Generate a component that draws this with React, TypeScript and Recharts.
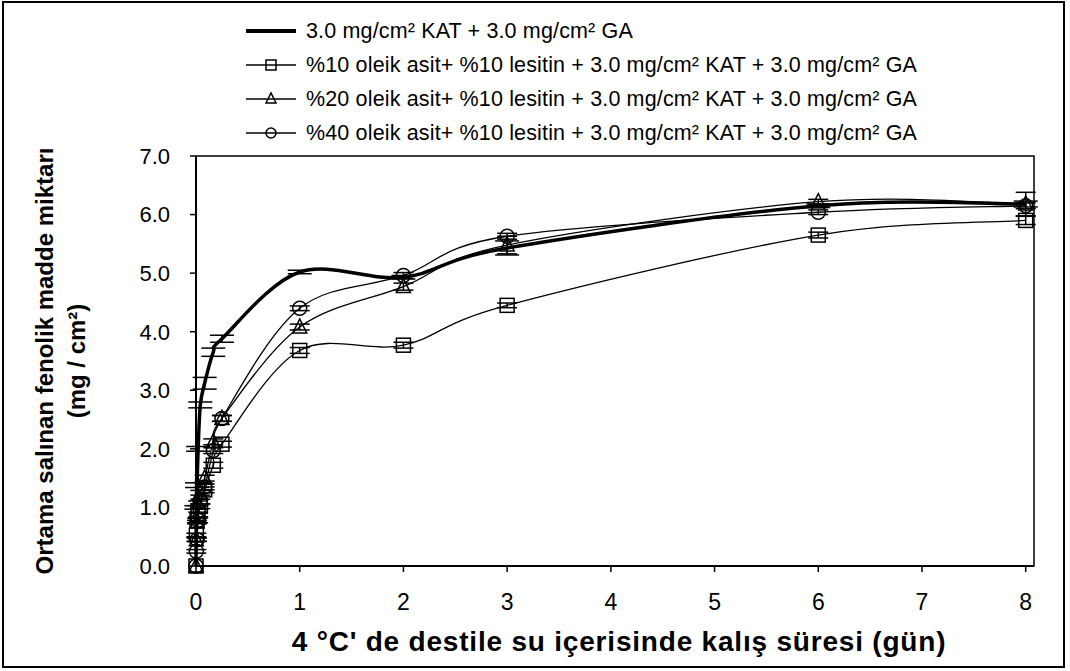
import {
  LineChart,
  Line,
  XAxis,
  YAxis,
  ErrorBar,
  Legend,
  ReferenceArea,
} from "recharts";

// sampling times in days: 0, 5 min, 15 min, 30 min, 1 h, 2 h, 4 h, 6 h, then daily
const days = [0, 0.0035, 0.0104, 0.0208, 0.0417, 0.0833, 0.1667, 0.25, 1, 2, 3, 6, 8];

const kat = [0, 1.0, 1.38, 2.0, 2.75, 3.12, 3.65, 3.88, 5.02, 4.93, 5.43, 6.15, 6.18];
const katErr = [0, 0.03, 0.04, 0.04, 0.05, 0.1, 0.07, 0.06, 0.03, 0.03, 0.12, 0.03, 0.05];

const ole10 = [0, 0.53, 0.78, 0.88, 1.02, 1.3, 1.72, 2.08, 3.68, 3.77, 4.45, 5.65, 5.9];
const ole10Err = [0, 0.03, 0.04, 0.04, 0.04, 0.05, 0.05, 0.05, 0.05, 0.05, 0.04, 0.05, 0.07];

const ole20 = [0, 0.45, 0.75, 1.07, 1.25, 1.5, 2.12, 2.52, 4.08, 4.77, 5.48, 6.22, 6.18];
const ole20Err = [0, 0.03, 0.03, 0.04, 0.04, 0.05, 0.05, 0.05, 0.05, 0.06, 0.15, 0.04, 0.2];

const ole40 = [0, 0.25, 0.45, 0.78, 1.1, 1.35, 1.97, 2.52, 4.4, 4.96, 5.63, 6.04, 6.15];
const ole40Err = [0, 0.03, 0.03, 0.04, 0.04, 0.05, 0.05, 0.05, 0.04, 0.05, 0.05, 0.04, 0.05];

const xTicks = [0, 1, 2, 3, 4, 5, 6, 7, 8];
const yTicks = [0, 1, 2, 3, 4, 5, 6, 7];

const seriesNames = [
  "3.0 mg/cm² KAT + 3.0 mg/cm² GA",
  "%10 oleik asit+ %10 lesitin + 3.0 mg/cm² KAT + 3.0 mg/cm² GA",
  "%20 oleik asit+ %10 lesitin + 3.0 mg/cm² KAT + 3.0 mg/cm² GA",
  "%40 oleik asit+ %10 lesitin + 3.0 mg/cm² KAT + 3.0 mg/cm² GA",
];

const data = days.map((t, i) => ({
  t,
  kat: kat[i],
  katErr: katErr[i],
  ole10: ole10[i],
  ole10Err: ole10Err[i],
  ole20: ole20[i],
  ole20Err: ole20Err[i],
  ole40: ole40[i],
  ole40Err: ole40Err[i],
}));

const FONT = "'Liberation Sans', Arial, sans-serif";

// Excel-style smoothed line: cubic bezier with control points at 1/6 of neighbour spread
function smoothCurve(context: any) {
  let pts: number[][] = [];
  return {
    areaStart() {},
    areaEnd() {},
    lineStart() {
      pts = [];
    },
    point(x: number, y: number) {
      pts.push([+x, +y]);
    },
    lineEnd() {
      if (!pts.length) return;
      context.moveTo(pts[0][0], pts[0][1]);
      for (let i = 0; i < pts.length - 1; i++) {
        const p0 = pts[i - 1] || pts[i];
        const p1 = pts[i];
        const p2 = pts[i + 1];
        const p3 = pts[i + 2] || p2;
        context.bezierCurveTo(
          p1[0] + (p2[0] - p0[0]) / 6,
          p1[1] + (p2[1] - p0[1]) / 6,
          p2[0] - (p3[0] - p1[0]) / 6,
          p2[1] - (p3[1] - p1[1]) / 6,
          p2[0],
          p2[1]
        );
      }
    },
  };
}

function Marker({ kind, cx, cy, s }: { kind: string; cx: number; cy: number; s: number }) {
  const h = s / 2;
  if (kind === "square")
    return <rect x={cx - h} y={cy - h} width={s} height={s} fill="none" stroke="#000" strokeWidth={1.5} />;
  if (kind === "triangle")
    return (
      <polygon
        points={`${cx},${cy - h - 1} ${cx - h},${cy + h - 1} ${cx + h},${cy + h - 1}`}
        fill="none"
        stroke="#000"
        strokeWidth={1.5}
      />
    );
  return <circle cx={cx} cy={cy} r={h} fill="none" stroke="#000" strokeWidth={1.5} />;
}

const dotOf = (kind: string) => (p: any) => (
  <Marker key={`${kind}-${p.index}`} kind={kind} cx={p.cx} cy={p.cy} s={14} />
);

function LegendBox() {
  const rows = [31, 65, 99, 133];
  const kinds = ["", "square", "triangle", "circle"];
  return (
    <svg width={1070} height={160}>
      {seriesNames.map((name, i) => (
        <g key={name}>
          <line
            x1={246}
            x2={296}
            y1={rows[i]}
            y2={rows[i]}
            stroke="#000"
            strokeWidth={i === 0 ? 4 : 1.5}
          />
          {kinds[i] && <Marker kind={kinds[i]} cx={271} cy={rows[i]} s={10} />}
          <text
            x={306}
            y={rows[i]}
            dominantBaseline="central"
            fontFamily={FONT}
            fontSize={21.5}
            letterSpacing={0.15}
            fill="#000"
          >
            {name}
          </text>
        </g>
      ))}
    </svg>
  );
}

export default function App() {
  const xTick = { fill: "#000", fontSize: 23, fontFamily: FONT };
  const yTick = { fill: "#000", fontSize: 22, fontFamily: FONT };
  return (
    <div style={{ position: "absolute", left: 0, top: 0, width: 1070, height: 671, background: "#fff" }}>
      <div
        style={{
          position: "absolute",
          left: 2,
          top: 1,
          width: 1063,
          height: 667,
          border: "2px solid #000",
          boxSizing: "border-box",
        }}
      />
      <LineChart
        width={1070}
        height={671}
        data={data}
        margin={{ top: 156, right: 36, bottom: 75, left: 136 }}
      >
        <ReferenceArea x1={0} x2={8.08} y1={0} y2={7} fill="none" stroke="#000" strokeWidth={1.5} />
        <XAxis
          type="number"
          dataKey="t"
          domain={[0, 8.08]}
          ticks={xTicks}
          height={30}
          tick={xTick}
          tickSize={6}
          tickMargin={22}
          axisLine={{ stroke: "#000", strokeWidth: 2 }}
          tickLine={{ stroke: "#000", strokeWidth: 1.5 }}
        />
        <YAxis
          type="number"
          domain={[0, 7]}
          ticks={yTicks}
          width={60}
          tick={yTick}
          tickSize={6}
          tickMargin={20}
          tickFormatter={(v: number) => v.toFixed(1)}
          axisLine={{ stroke: "#000", strokeWidth: 2 }}
          tickLine={{ stroke: "#000", strokeWidth: 1.5 }}
        />
        <Legend
          layout="horizontal"
          verticalAlign="middle"
          align="center"
          wrapperStyle={{ position: "absolute", left: 0, top: 0, width: 1070, height: 160 }}
          content={() => <LegendBox />}
        />
        <Line
          dataKey="kat"
          type={smoothCurve as any}
          stroke="#000"
          strokeWidth={3.5}
          dot={false}
          isAnimationActive={false}
        >
          <ErrorBar dataKey="katErr" direction="y" width={12} stroke="#000" strokeWidth={1.5} isAnimationActive={false} />
        </Line>
        <Line
          dataKey="ole10"
          type={smoothCurve as any}
          stroke="#000"
          strokeWidth={1.3}
          dot={dotOf("square")}
          isAnimationActive={false}
        >
          <ErrorBar dataKey="ole10Err" direction="y" width={10} stroke="#000" strokeWidth={1.5} isAnimationActive={false} />
        </Line>
        <Line
          dataKey="ole20"
          type={smoothCurve as any}
          stroke="#000"
          strokeWidth={1.3}
          dot={dotOf("triangle")}
          isAnimationActive={false}
        >
          <ErrorBar dataKey="ole20Err" direction="y" width={10} stroke="#000" strokeWidth={1.5} isAnimationActive={false} />
        </Line>
        <Line
          dataKey="ole40"
          type={smoothCurve as any}
          stroke="#000"
          strokeWidth={1.3}
          dot={dotOf("circle")}
          isAnimationActive={false}
        >
          <ErrorBar dataKey="ole40Err" direction="y" width={10} stroke="#000" strokeWidth={1.5} isAnimationActive={false} />
        </Line>
      </LineChart>
      <svg style={{ position: "absolute", left: 0, top: 0, pointerEvents: "none" }} width={1070} height={671}>
        <text
          x={619}
          y={651}
          textAnchor="middle"
          fontFamily={FONT}
          fontWeight="bold"
          fontSize={28}
          letterSpacing={0.8}
          fill="#000"
        >
          4 °C' de destile su içerisinde kalış süresi (gün)
        </text>
        <g transform="translate(44,361) rotate(-90)">
          <text textAnchor="middle" dominantBaseline="central" fontFamily={FONT} fontWeight="bold" fontSize={24} fill="#000">
            Ortama salınan fenolik madde miktarı
          </text>
        </g>
        <g transform="translate(76,361) rotate(-90)">
          <text textAnchor="middle" dominantBaseline="central" fontFamily={FONT} fontWeight="bold" fontSize={24} fill="#000">
            (mg / cm²)
          </text>
        </g>
      </svg>
    </div>
  );
}
